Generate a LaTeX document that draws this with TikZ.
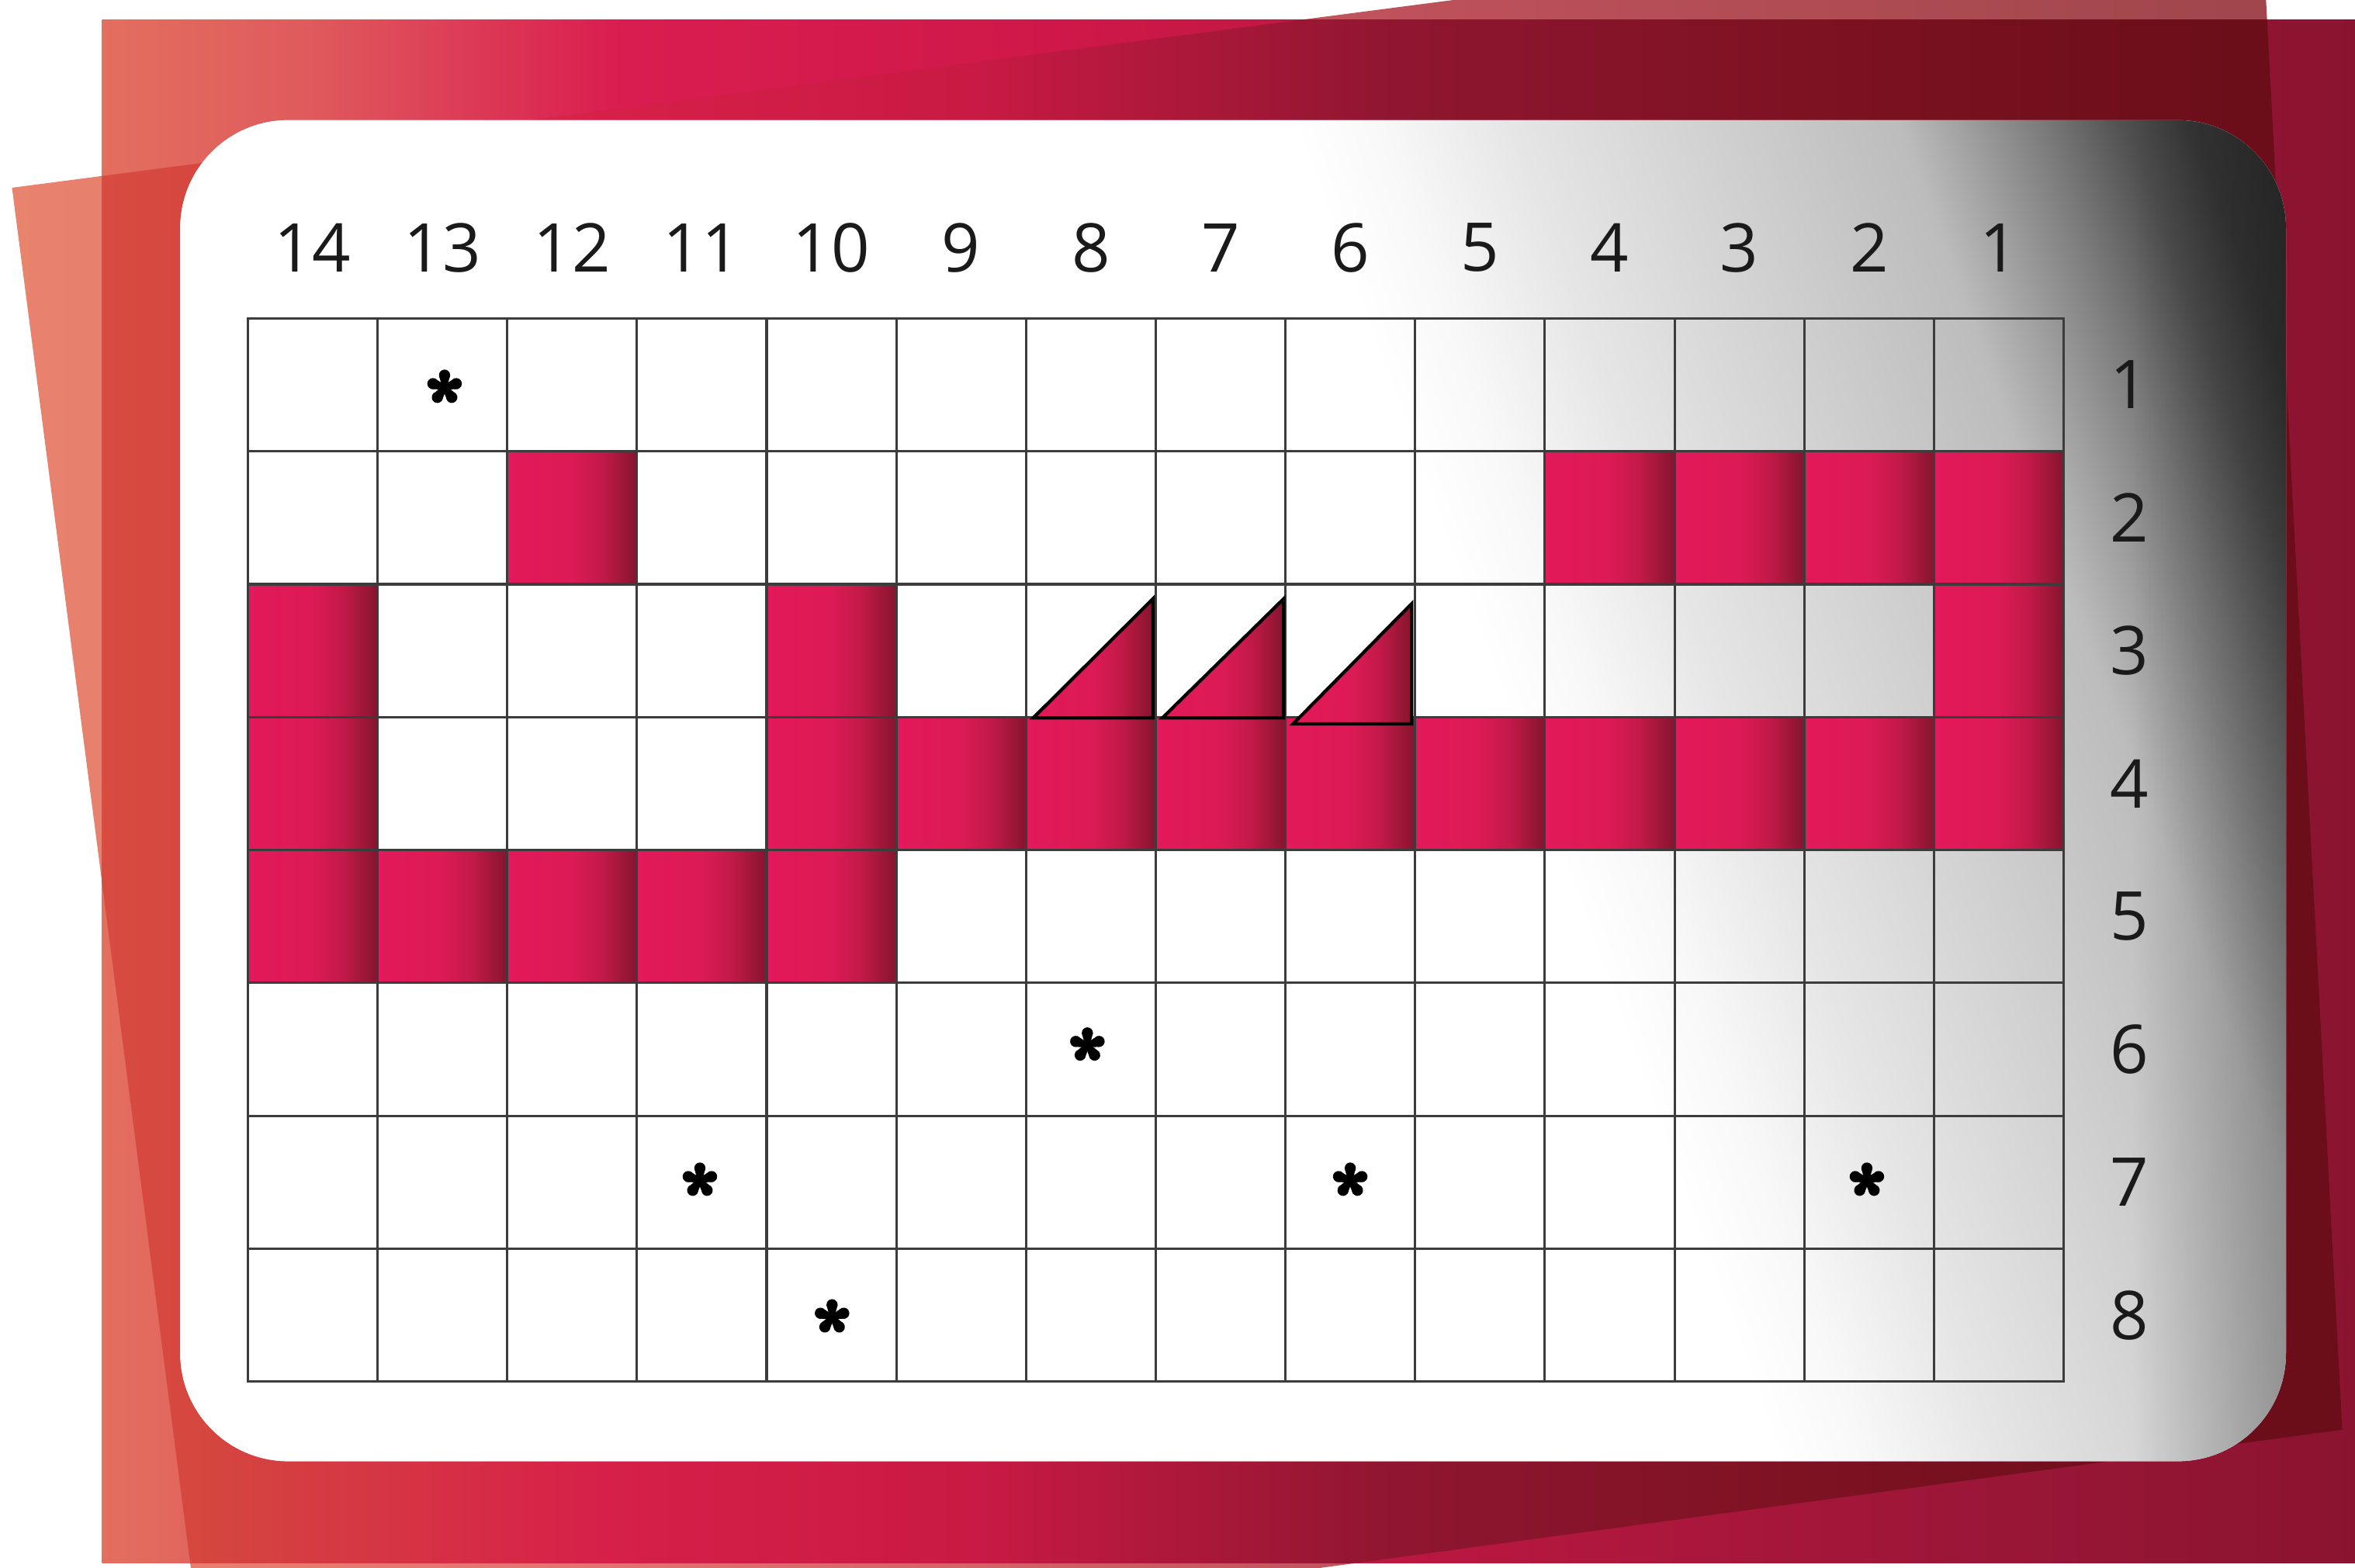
\documentclass[tikz,border=0pt]{standalone}
\usepackage{fontspec}
\setmainfont{Open Sans}
% sheet colours
\definecolor{Ba}{HTML}{E8836E}
\definecolor{Bb}{HTML}{E27270}
\definecolor{Bc}{HTML}{C0525C}
\definecolor{Bd}{HTML}{A0464C}
\definecolor{Aa}{HTML}{E36F5F}
\definecolor{Ab}{HTML}{DF5A5C}
\definecolor{Ac}{HTML}{DA1D50}
\definecolor{Ad}{HTML}{CF1849}
\definecolor{Ae}{HTML}{B5173F}
\definecolor{Af}{HTML}{9C1638}
\definecolor{Ag}{HTML}{8A1430}
\definecolor{ABa}{HTML}{D84B41}
\definecolor{ABb}{HTML}{D5473F}
\definecolor{ABc}{HTML}{D62049}
\definecolor{ABd}{HTML}{C81A44}
\definecolor{ABe}{HTML}{8F1630}
\definecolor{ABf}{HTML}{7A1120}
\definecolor{ABg}{HTML}{6B0E1A}
% cell colours
\definecolor{Ca}{HTML}{E2195A}
\definecolor{Cb}{HTML}{DC1A55}
\definecolor{Cc}{HTML}{C21A48}
\definecolor{Cd}{HTML}{901632}
\definecolor{Ce}{HTML}{851430}
% card colours
\definecolor{K1}{HTML}{F8F8F8}
\definecolor{K2}{HTML}{E6E6E6}
\definecolor{K3}{HTML}{D8D8D8}
\definecolor{K4}{HTML}{CACACA}
\definecolor{K5}{HTML}{BCBCBC}
\definecolor{K6}{HTML}{A0A0A0}
\definecolor{K7}{HTML}{7A7A7A}
\definecolor{K8}{HTML}{505050}
\definecolor{K9}{HTML}{383838}
\definecolor{K10}{HTML}{2A2A2A}
\definecolor{Kv}{HTML}{BFBFBF}
\definecolor{gridc}{HTML}{3C3C3C}
\definecolor{labelc}{HTML}{1A1A1A}

\pgfdeclarehorizontalshading{Bshade}{100bp}{color(0bp)=(Ba); color(25bp)=(Ba); color(37.6bp)=(Bb); color(53.75bp)=(Bc); color(73.1bp)=(Bd); color(100bp)=(Bd)}
\pgfdeclarehorizontalshading{Ashade}{100bp}{color(0bp)=(Aa); color(25bp)=(Aa); color(29.6bp)=(Ab); color(36.5bp)=(Ac); color(46.07bp)=(Ad); color(56.07bp)=(Ae); color(66.07bp)=(Af); color(75bp)=(Ag); color(100bp)=(Ag)}
\pgfdeclarehorizontalshading{ABshade}{100bp}{color(0bp)=(ABa); color(25bp)=(ABa); color(27.07bp)=(ABb); color(36.07bp)=(ABc); color(44.4bp)=(ABd); color(53.73bp)=(ABe); color(64.57bp)=(ABf); color(72.73bp)=(ABg); color(100bp)=(ABg)}
\pgfdeclarehorizontalshading{cellshade}{100bp}{color(0bp)=(Ca); color(25bp)=(Ca); color(50bp)=(Cb); color(61.5bp)=(Cc); color(72.5bp)=(Cd); color(75bp)=(Ce); color(100bp)=(Ce)}
\pgfdeclarehorizontalshading{cardlin}{100bp}{color(0bp)=(white); color(55.29bp)=(white); color(56.94bp)=(K1); color(59.29bp)=(K2); color(61.68bp)=(K3); color(64.09bp)=(K4); color(66.47bp)=(K5); color(67.65bp)=(K6); color(69.12bp)=(K7); color(70.59bp)=(K8); color(71.85bp)=(K9); color(75bp)=(K10); color(100bp)=(K10)}

\begin{document}
\begin{tikzpicture}[x=0.5pt,y=-0.5pt,
  gridline/.style={draw=gridc, line width=0.8pt, line cap=rect},
  redcell/.style={shading=cellshade},
  tri/.style={shading=cellshade, draw=black, line width=1.1pt, line join=miter},
  lbl/.style={font=\fontsize{22.4}{26}\selectfont, text=labelc, inner sep=0pt},
  aster/.pic={
    \fill[black] (0,0) circle[radius=4];
    \foreach \a in {90,18,-54,-126,162}{
      \begin{scope}[rotate=\a]
        \fill[black] (0,1.6) -- (8.2,3.7) -- (8.2,-3.7) -- (0,-1.6) -- cycle;
        \fill[black] (8.2,0) circle[radius=3.7];
      \end{scope}}
  }
]
\useasboundingbox (0,0) rectangle (1568,1044);
\clip (0,0) rectangle (1568,1044);

% back sheet B (alone)
\shade[shading=Bshade] (8,125) -- (1505,-70) -- (1559.5,952) -- (140,1144) -- cycle;
% sheet A (alone)
\shade[shading=Ashade] (68,13) rectangle (1568,1041);
% overlap of A and B
\begin{scope}
  \clip (8,125) -- (1505,-70) -- (1559.5,952) -- (140,1144) -- cycle;
  \shade[shading=ABshade] (68,13) rectangle (1568,1041);
\end{scope}

% white card with grey shading towards the top right
\fill[white, rounded corners=36pt] (120,80) rectangle (1522,973);
\begin{scope}
  \clip[rounded corners=36pt] (120,80) rectangle (1522,973);
  \begin{scope}[transform canvas={rotate around={20:(0,0)}}]
    \shade[shading=cardlin] (-250,80) rectangle (1450,1480);
  \end{scope}
  \begin{scope}[blend mode=multiply]
    \shade[left color=white, right color=Kv] (1420,80) rectangle (1522,973);
  \end{scope}
\end{scope}

% red cells
\foreach \c/\r in {12/2,4/2,3/2,2/2,1/2,14/3,10/3,1/3,14/4,10/4,9/4,8/4,7/4,6/4,5/4,4/4,3/4,2/4,1/4,14/5,13/5,12/5,11/5,10/5}
  \shade[redcell] ({165+(14-\c)*86.357},{212+(\r-1)*88.5}) rectangle +(86.357,88.5);

% grid
\foreach \i in {0,...,14}
  \draw[gridline] ({165+\i*86.357},212) -- ({165+\i*86.357},920);
\foreach \j in {0,...,8}
  \draw[gridline] (165,{212+\j*88.5}) -- (1374,{212+\j*88.5});

% triangles in row 3
\shadedraw[tri] (688,478) -- (767.7,478) -- (767.7,398.7) -- cycle;
\shadedraw[tri] (774,478) -- (854.7,478) -- (854.7,398.7) -- cycle;
\shadedraw[tri] (861,482) -- (939.9,482) -- (939.9,402) -- cycle;

% asterisks
\foreach \x/\y in {296/258, 724/696, 466/786, 899/786, 1243/786, 554/877}
  \pic at (\x,\y) {aster};

% column labels
\foreach \c in {14,13,...,1}
  \node[lbl] (c\c) at ({165+(14-\c+0.5)*86.357},165) {\c};
% row labels
\foreach \r in {1,...,8}
  \node[lbl] (r\r) at (1418,{212+(\r-0.5)*88.5}) {\r};
\end{tikzpicture}
\end{document}
